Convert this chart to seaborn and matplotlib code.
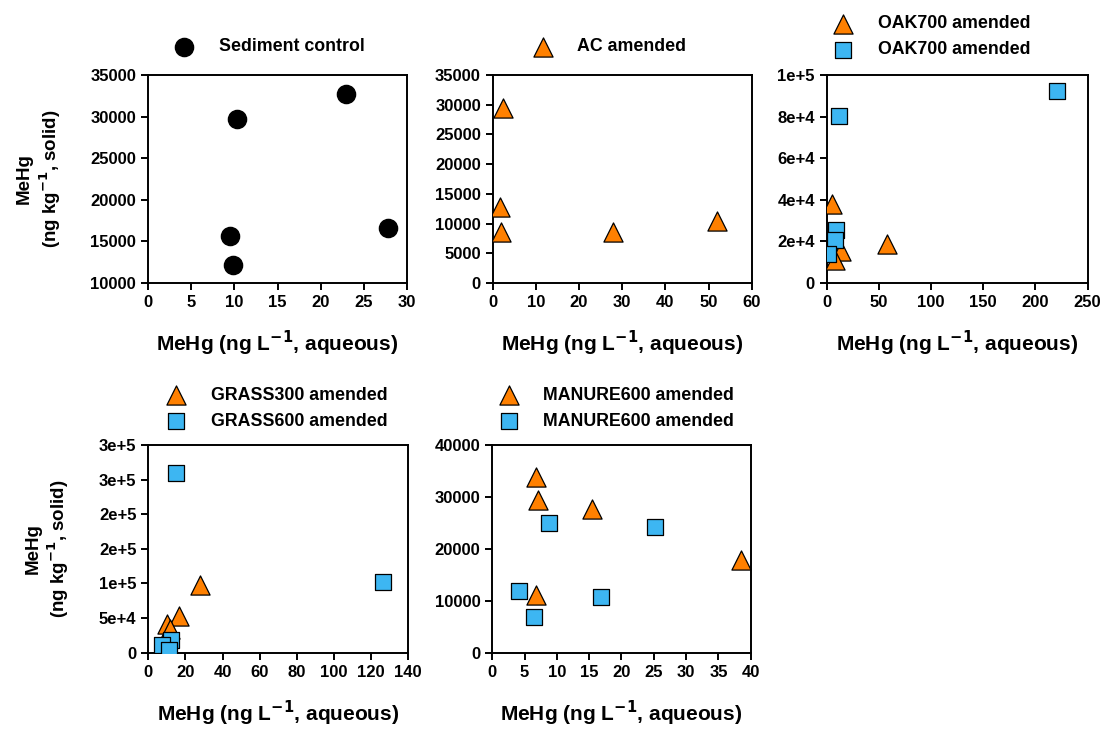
import matplotlib
matplotlib.use('Agg')
import matplotlib.pyplot as plt
import seaborn as sns

# ── Data ──────────────────────────────────────────────────────────────────────

sed_x = [22.9, 10.3, 9.5, 9.8, 27.8]
sed_y = [32700, 29700, 15700, 12200, 16600]

ac_x = [2.3, 1.7, 1.9, 27.8, 52.0]
ac_y = [29500, 12800, 8500, 8500, 10500]

oak_tri_x = [5.4, 58.0, 14.0, 8.0]
oak_tri_y = [38000, 18600, 15500, 11000]
oak_sq_x = [220.6, 11.5, 8.9, 8.3, 1.0]
oak_sq_y = [92300, 80300, 25500, 20700, 13900]

grass300_x = [27.8, 16.7, 10.2, 11.7]
grass300_y = [97300, 52600, 41400, 33800]
grass600_x = [14.9, 126.6, 12.0, 7.2, 11.0]
grass600_y = [259000, 102600, 18300, 11100, 4000]

man_tri_x = [6.8, 7.0, 15.5, 6.8, 38.5]
man_tri_y = [33800, 29400, 27600, 11100, 17900]
man_sq_x = [8.8, 25.2, 4.2, 16.8, 6.5]
man_sq_y = [25000, 24300, 11800, 10800, 6900]

oak_yticks = [0, 20000, 40000, 60000, 80000, 100000]
oak_ylabels = ['0', '2e+4', '4e+4', '6e+4', '8e+4', '1e+5']
grass_yticks = [0, 50000, 100000, 150000, 200000, 250000, 300000]
grass_ylabels = ['0', '5e+4', '1e+5', '2e+5', '2e+5', '3e+5', '3e+5']

# ── Style ─────────────────────────────────────────────────────────────────────

sns.set_style('ticks')
plt.rcParams['font.family'] = ['Liberation Sans', 'DejaVu Sans']
plt.rcParams['font.weight'] = 'bold'
plt.rcParams['axes.labelweight'] = 'bold'
plt.rcParams['mathtext.default'] = 'bf'
for k in ['text.color', 'axes.labelcolor', 'xtick.color', 'ytick.color',
          'axes.edgecolor']:
    plt.rcParams[k] = 'black'

ORANGE = '#FF8000'
BLUE = '#3DB6F2'
XLABEL = r'MeHg (ng L$^{-1}$, aqueous)'
YLABEL = 'MeHg\n' + r'(ng kg$^{-1}$, solid)'

fig = plt.figure(figsize=(11.04, 7.31), dpi=100)

ax1 = fig.add_axes([0.1341, 0.6129, 0.2346, 0.2845])
ax2 = fig.add_axes([0.4463, 0.6129, 0.2346, 0.2845])
ax3 = fig.add_axes([0.7488, 0.6129, 0.2364, 0.2845])
ax4 = fig.add_axes([0.1343, 0.1071, 0.2355, 0.2841])
ax5 = fig.add_axes([0.4459, 0.1071, 0.2341, 0.2841])


def tri(ax, x, y, label):
    sns.scatterplot(x=x, y=y, ax=ax, marker='^', s=190, color=ORANGE,
                    edgecolor='black', linewidth=0.9, label=label, zorder=3)


def sq(ax, x, y, label):
    sns.scatterplot(x=x, y=y, ax=ax, marker='s', s=130, color=BLUE,
                    edgecolor='black', linewidth=0.9, label=label, zorder=4)


def style(ax, xlim, xstep, ylim, ystep, ylabel=None, leg=(0.0, 1.15)):
    ax.set_xlim(*xlim)
    ax.set_ylim(*ylim)
    ax.set_xticks(range(xlim[0], xlim[1] + 1, xstep))
    if ystep:
        ax.set_yticks(range(ylim[0], ylim[1] + 1, ystep))
    for s in ax.spines.values():
        s.set_linewidth(1.4)
        s.set_visible(True)
    ax.tick_params(direction='out', length=5, width=1.4, labelsize=12,
                   top=False, right=False, colors='black')
    for t in ax.get_xticklabels() + ax.get_yticklabels():
        t.set_fontweight('bold')
    ax.set_xlabel(XLABEL, fontsize=15, fontweight='bold', labelpad=14)
    ax.set_ylabel(ylabel if ylabel else '', fontsize=13.5, fontweight='bold',
                  labelpad=20)
    ax.legend(loc='center left', bbox_to_anchor=leg, frameon=False,
              borderpad=0, borderaxespad=0, handlelength=1.5,
              handletextpad=1.2, labelspacing=0.5,
              prop={'size': 12.8, 'weight': 'bold'})


# Sediment control
sns.scatterplot(x=sed_x, y=sed_y, ax=ax1, marker='o', s=170, color='black',
                edgecolor='black', label='Sediment control', zorder=3)
style(ax1, (0, 30), 5, (10000, 35000), 5000, YLABEL, leg=(0.087, 1.135))

# AC amended
tri(ax2, ac_x, ac_y, 'AC amended')
style(ax2, (0, 60), 10, (0, 35000), 5000, leg=(0.142, 1.135))

# OAK700
tri(ax3, oak_tri_x, oak_tri_y, 'OAK700 amended')
sq(ax3, oak_sq_x, oak_sq_y, 'OAK700 amended')
style(ax3, (0, 250), 50, (0, 100000), None, leg=(0.011, 1.183))
ax3.set_yticks(oak_yticks)
ax3.set_yticklabels(oak_ylabels, fontweight='bold')

# GRASS
tri(ax4, grass300_x, grass300_y, 'GRASS300 amended')
sq(ax4, grass600_x, grass600_y, 'GRASS600 amended')
style(ax4, (0, 140), 20, (0, 300000), None, YLABEL, leg=(0.055, 1.176))
ax4.set_yticks(grass_yticks)
ax4.set_yticklabels(grass_ylabels, fontweight='bold')

# MANURE
tri(ax5, man_tri_x, man_tri_y, 'MANURE600 amended')
sq(ax5, man_sq_x, man_sq_y, 'MANURE600 amended')
style(ax5, (0, 40), 5, (0, 40000), 10000, leg=(0.012, 1.176))

fig.savefig('out.png', dpi=100, facecolor='white')
